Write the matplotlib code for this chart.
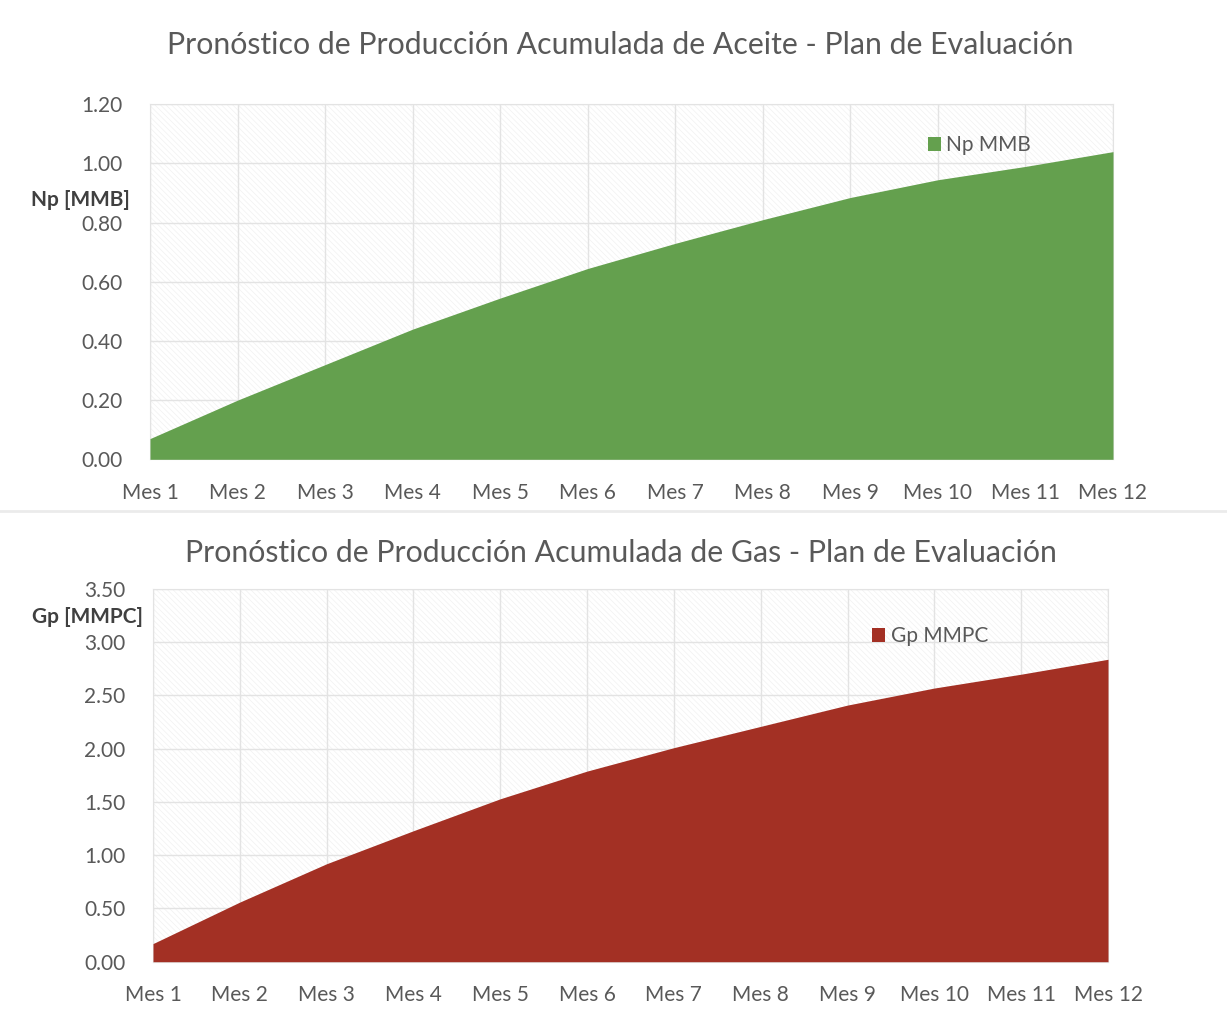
import matplotlib.pyplot as plt
from matplotlib.patches import Rectangle
import numpy as np

plt.rcParams['font.family'] = ['Lato', 'DejaVu Sans']
plt.rcParams['hatch.linewidth'] = 0.5

meses = ["Mes %d" % i for i in range(1, 13)]
np_mmb = [0.07, 0.20, 0.32, 0.44, 0.545, 0.645, 0.73, 0.81, 0.885, 0.945, 0.99, 1.04]
gp_mmpc = [0.17, 0.56, 0.92, 1.23, 1.53, 1.79, 2.01, 2.21, 2.41, 2.57, 2.70, 2.84]

np_ticks = [0.0, 0.2, 0.4, 0.6, 0.8, 1.0, 1.2]
gp_ticks = [0.0, 0.5, 1.0, 1.5, 2.0, 2.5, 3.0, 3.5]

GRAY = "#595959"
GRID = "#e3e3e3"

fig = plt.figure(figsize=(12.27, 10.36), dpi=100)


def area_panel(rect, values, yticks, color, ylabel, ylabel_xy, legend_label, legend_xy, title, title_y):
    ax = fig.add_axes(rect)
    x = np.arange(len(meses))
    # faint diagonal pattern behind the plot
    ax.add_patch(Rectangle((0, 0), 1, 1, transform=ax.transAxes, facecolor="white",
                           edgecolor="#f1f1f1", hatch="\\\\\\\\\\\\", lw=0, zorder=0))
    ax.fill_between(x, 0, values, color=color, lw=0, zorder=3, label=legend_label)
    ax.set_xlim(0, len(meses) - 1)
    ax.set_ylim(yticks[0], yticks[-1])
    ax.set_xticks(x)
    ax.set_xticklabels(meses)
    ax.set_yticks(yticks)
    ax.set_yticklabels(["%.2f" % t for t in yticks])
    ax.grid(True, color=GRID, lw=1, zorder=1)
    ax.set_axisbelow(False)
    for s in ax.spines.values():
        s.set_color(GRID)
        s.set_zorder(1)
    ax.tick_params(length=0, labelsize=15, colors=GRAY)
    ax.tick_params(axis="y", pad=20)
    ax.tick_params(axis="x", pad=17)
    fig.text(ylabel_xy[0], ylabel_xy[1], ylabel, ha="right", va="center",
             fontsize=15, fontweight="bold", color="#404040")
    ax.legend(loc="center left", bbox_to_anchor=legend_xy, frameon=False, fontsize=15,
              labelcolor=GRAY, handlelength=0.65, handleheight=0.65, handletextpad=0.25)
    fig.text(0.5057, title_y, title, ha="center", va="center", fontsize=21.8, color=GRAY)
    return ax


area_panel([150 / 1227, 1 - 459.3 / 1036, 963 / 1227, 355 / 1036], np_mmb, np_ticks, "#64a04e",
           "Np [MMB]", (130 / 1227, 1 - 200 / 1036), "Np MMB", (0.788, 0.885),
           "Pronóstico de Producción Acumulada de Aceite - Plan de Evaluación", 1 - 45 / 1036)

area_panel([153 / 1227, 1 - 961.7 / 1036, 955 / 1227, 372.7 / 1036], gp_mmpc, gp_ticks, "#a33024",
           "Gp [MMPC]", (143 / 1227, 1 - 617 / 1036), "Gp MMPC", (0.733, 0.874),
           "Pronóstico de Producción Acumulada de Gas - Plan de Evaluación", 1 - 553 / 1036)

# light divider between the two charts
fig.add_artist(plt.Line2D([0, 1], [1 - 511 / 1036, 1 - 511 / 1036], color="#ebebeb", lw=2))

fig.savefig("out.png", dpi=100)
